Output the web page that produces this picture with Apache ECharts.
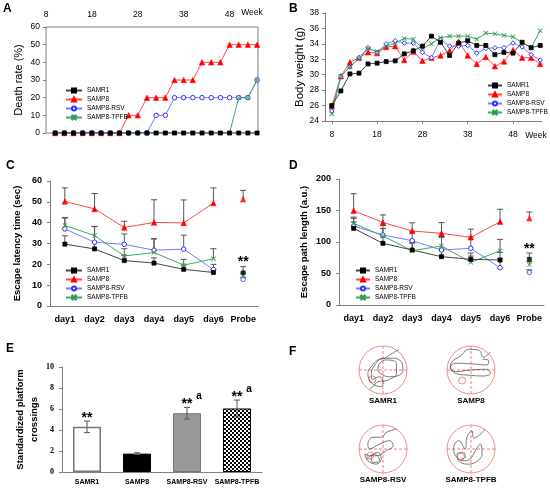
<!DOCTYPE html>
<html>
<head>
<meta charset="utf-8">
<script src="https://cdn.jsdelivr.net/npm/echarts@6/dist/echarts.min.js"></script>
<style>
html, body { margin: 0; padding: 0; background: #fff; }
#box { width: 550px; height: 490px; }
</style>
</head>
<body>
<div id="box"></div>
<script>
var groups = ['SAMR1', 'SAMP8', 'SAMP8-RSV', 'SAMP8-TPFB'];

// A - death rate (%)
var deathWeeks = [10, 12, 14, 16, 18, 20, 22, 24, 26, 28, 30, 32, 34, 36, 38, 40, 42, 44, 46, 48, 50, 52, 54];
var deathR1 = [0, 0, 0, 0, 0, 0, 0, 0, 0, 0, 0, 0, 0, 0, 0, 0, 0, 0, 0, 0, 0, 0, 0];
var deathP8 = [0, 0, 0, 0, 0, 0, 0, 0, 10, 10, 20, 20, 20, 30, 30, 30, 40, 40, 40, 50, 50, 50, 50];
var deathRSV = [0, 0, 0, 0, 0, 0, 0, 0, 0, 0, 0, 10, 10, 20, 20, 20, 20, 20, 20, 20, 20, 20, 30];
var deathTPFB = [0, 0, 0, 0, 0, 0, 0, 0, 0, 0, 0, 0, 0, 0, 0, 0, 0, 0, 0, 0, 20, 20, 30];
var weekTicks = [8, 18, 28, 38, 48];

// B - body weight (g)
var weightWeeks = [8, 10, 12, 14, 16, 18, 20, 22, 24, 26, 28, 30, 32, 34, 36, 38, 40, 42, 44, 46, 48, 50, 52, 54];
var weightR1 = [26.0, 27.9, 30.1, 30.2, 31.4, 31.5, 31.7, 31.8, 32.7, 33.1, 33.7, 35.0, 34.2, 32.5, 34.1, 34.4, 33.8, 33.8, 32.6, 32.9, 32.8, 34.2, 33.5, 33.8];
var weightP8 = [25.9, 29.8, 31.6, 32.2, 32.9, 32.8, 33.6, 33.7, 31.9, 33.0, 31.8, 32.2, 32.5, 33.1, 34.3, 32.5, 31.4, 32.3, 31.1, 31.7, 33.2, 32.2, 32.2, 31.4];
var weightRSV = [25.3, 29.8, 31.0, 32.2, 33.5, 32.9, 34.0, 34.4, 34.1, 34.1, 32.9, 32.2, 34.6, 33.7, 33.7, 33.8, 32.8, 33.4, 33.5, 33.5, 34.1, 33.6, 32.6, 31.9];
var weightTPFB = [24.9, 29.8, 31.0, 32.1, 33.4, 33.0, 33.7, 34.1, 34.7, 34.6, 33.4, 34.0, 34.8, 35.0, 35.0, 35.0, 34.6, 35.4, 35.3, 35.1, 34.9, 34.2, 33.5, 35.7];

// C - escape latency (sec), D - escape path length (a.u.)
var days = ['day1', 'day2', 'day3', 'day4', 'day5', 'day6', 'Probe'];
var latR1 = [29.7, 27.4, 21.8, 20.6, 17.6, 16.1, 15.9];
var latR1Err = [4.0, 3.0, 2.5, 2.5, 2.0, 1.5, 3.0];
var latP8 = [50.2, 46.6, 37.7, 40.1, 39.9, 49.4, 51.2];
var latP8Err = [6.5, 7.4, 3.0, 10.9, 11.0, 7.3, 4.3];
var latRSV = [37.0, 30.6, 29.6, 26.8, 27.3, 17.5, 12.8];
var latRSVErr = [5.5, 7.5, 5.0, 5.5, 6.7, 2.5, 1.0];
var latTPFB = [38.7, 33.8, 24.0, 25.7, 19.6, 22.7, 14.3];
var latTPFBErr = [3.5, 4.4, 3.5, 6.5, 2.8, 4.8, 1.5];
var pathR1 = [121.7, 97.9, 87.3, 76.7, 72.5, 71.4, 72.5];
var pathR1Err = [10, 10, 12, 12, 10, 12, 10];
var pathP8 = [149.7, 131.0, 117.5, 113.8, 107.4, 132.0, 137.6];
var pathP8Err = [27, 12, 13, 17, 13, 20, 10];
var pathRSV = [125.4, 111.1, 102.1, 87.3, 90.0, 59.2, 51.8];
var pathRSVErr = [12, 15, 14, 20, 18, 15, 4];
var pathTPFB = [129.6, 109.5, 86.2, 93.7, 67.7, 86.2, 63.5];
var pathTPFBErr = [10, 12, 12, 15, 10, 18, 5];
var probeStars = ['', '', '', '', '', '', '**'];

// E - standardized platform crossings
var crossNames = ['SAMR1', 'SAMP8', 'SAMP8-RSV', 'SAMP8-TPFB'];
var crossVals = [4.3, 1.75, 5.6, 6.05];
var crossErr = [0.55, 0.08, 0.55, 0.8];
var crossStars = ['**', '', '**', '**'];
var crossSup = ['', '', 'a', 'a'];

// F - swim paths (pool radius = 1)
var trajR1 = [[0.67, 0.86], [0.35, 0.67], [0.07, 0.49], [-0.21, 0.42], [-0.49, 0.14], [-0.63, -0.14], [-0.56, -0.42], [-0.35, -0.63], [-0.07, -0.69], [0, -0.49], [-0.14, -0.28], [-0.44, -0.39], [-0.49, -0.14], [-0.28, 0.28], [0, 0.49], [0.42, 0.49], [0.76, 0.35], [0.83, 0], [0.69, -0.21], [0.28, -0.28], [0, -0.21], [-0.21, 0], [-0.14, 0.28], [0.14, 0.42], [0.56, 0.28], [0.56, -0.14], [0.21, -0.42], [-0.21, -0.49], [-0.42, -0.69], [-0.56, -0.81]];
var trajP8 = [[0.81, 0.76], [0.53, 0.53], [0.32, 0.83], [-0.1, 0.86], [-0.44, 0.58], [-0.79, 0.35], [-0.86, 0.07], [-0.65, -0.07], [-0.03, 0], [0.67, 0.03], [0.81, -0.14], [0.53, -0.25], [-0.17, -0.21], [-0.65, -0.14], [-0.86, 0.14], [-0.58, 0.28], [0.11, 0.25], [0.67, 0.21], [0.74, 0.39], [0.5, 0.45]];
var trajRSV = [[0.56, 0.83], [0.14, 0.69], [-0.07, 0.49], [-0.42, 0.49], [-0.63, 0.21], [-0.56, 0], [-0.14, 0.21], [0.28, 0.35], [0.42, 0.14], [0.14, -0.07], [-0.28, -0.28], [-0.56, -0.28], [-0.76, -0.21], [-0.63, -0.49], [-0.28, -0.63], [-0.07, -0.42], [-0.21, -0.14], [-0.49, -0.35], [-0.42, -0.56], [-0.14, -0.49], [-0.35, -0.21], [-0.69, -0.42]];
var trajTPFB = [[0.6, 0.83], [0.32, 0.56], [0.11, 0.46], [0.04, 0.76], [-0.17, 0.49], [-0.24, 0], [-0.51, 0.35], [-0.72, 0.07], [-0.65, -0.28], [-0.31, -0.49], [-0.03, -0.42], [0.18, -0.07], [0.39, 0.21], [0.46, -0.21], [0.18, -0.56], [-0.17, -0.63], [-0.51, -0.49], [-0.58, -0.21], [-0.31, -0.14], [-0.24, -0.35], [-0.44, -0.42]];
var platforms = [[-0.44, -0.39], [-0.37, -0.44], [-0.53, -0.28], [-0.42, -0.32]];

var FONT = 'Liberation Sans';
var GRAY = '#808080';
var xSym = 'path://M0,1L1,0L5,4L9,0L10,1L6,5L10,9L9,10L5,6L1,10L0,9L4,5Z';
var markers = [
    { symbol: 'rect', size: 4, fill: '#000', stroke: '#000', bw: 0.8 },
    { symbol: 'triangle', size: 5.5, fill: '#ff0000', stroke: '#ff0000', bw: 0.5 },
    { symbol: 'circle', size: 4.5, fill: '#fff', stroke: '#3030ff', bw: 1 },
    { symbol: xSym, size: 4.5, fill: '#2e9e52', stroke: '#2e9e52', bw: 0.3 }
];
var lineCols = ['#444', '#ff4a4a', '#7a7aff', '#3caa68'];
var poolCenters = [[383, 370], [471, 370], [383, 449], [471, 449]];
var poolLabels = ['SAMR1', 'SAMP8', 'SAMP8-RSV', 'SAMP8-TPFB'];

function lineSeries(k, axis, data, sym) {
    var m = markers[k];
    return {
        name: groups[k], type: 'line', xAxisIndex: axis, yAxisIndex: axis, data: data,
        symbol: sym || m.symbol, symbolSize: m.size, showSymbol: true,
        lineStyle: { color: lineCols[k], width: 1 },
        itemStyle: { color: m.fill, borderColor: m.stroke, borderWidth: m.bw },
        z: k === 0 ? 6 : 3
    };
}

function probeSeries(k, axis, vals) {
    var m = markers[k];
    return {
        name: groups[k], type: 'scatter', xAxisIndex: axis, yAxisIndex: axis,
        data: [[6, vals[6]]], symbol: m.symbol, symbolSize: m.size,
        itemStyle: { color: m.fill, borderColor: m.stroke, borderWidth: m.bw }, z: 4
    };
}

// upper error bars, optional stars above the cap
function errorSeries(axis, vals, errs, stars) {
    return {
        type: 'custom', xAxisIndex: axis, yAxisIndex: axis, z: 1,
        data: vals.map(function(v, i) { return [i, v, errs[i]]; }),
        renderItem: function(params, api) {
            var x = api.value(0), m = api.value(1), e = api.value(2);
            var a = api.coord([x, m]), b = api.coord([x, m + e]);
            var kids = [
                { type: 'line', shape: { x1: a[0], y1: a[1], x2: b[0], y2: b[1] }, style: { stroke: '#555', lineWidth: 1 } },
                { type: 'line', shape: { x1: b[0] - 3, y1: b[1], x2: b[0] + 3, y2: b[1] }, style: { stroke: '#555', lineWidth: 1 } }
            ];
            var s = stars && stars[params.dataIndex];
            if (s) {
                kids.push({ type: 'text', x: b[0], y: b[1] - 4, style: { text: s, align: 'center', verticalAlign: 'middle', font: 'bold 14px ' + FONT, fill: '#000' } });
            }
            return { type: 'group', children: kids };
        }
    };
}

function checker() {
    var c = document.createElement('canvas');
    c.width = 4; c.height = 4;
    var g = c.getContext('2d');
    g.fillStyle = '#fff'; g.fillRect(0, 0, 4, 4);
    g.fillStyle = '#000'; g.fillRect(0, 0, 2, 2); g.fillRect(2, 2, 2, 2);
    return c;
}
var barStyles = [
    { color: '#fff', borderColor: '#777', borderWidth: 1.5 },
    { color: '#000', borderColor: '#000', borderWidth: 1 },
    { color: '#999', borderColor: '#777', borderWidth: 1 },
    { color: { image: checker(), repeat: 'repeat' }, borderColor: '#000', borderWidth: 1 }
];

function legendAt(left, top, w) {
    return {
        data: groups, orient: 'vertical', left: left, top: top, itemWidth: w, itemHeight: 5, itemGap: 2,
        selectedMode: false, textStyle: { fontSize: 6.5, fontFamily: FONT, color: '#000' }
    };
}

var labelStyle = { color: '#000', fontFamily: FONT, fontSize: 8.5 };
var boldLabel = { color: '#000', fontFamily: FONT, fontSize: 9, fontWeight: 'bold' };
function mix(a, b) { var o = {}; for (var k in a) o[k] = a[k]; for (var j in b) o[j] = b[j]; return o; }

var grids = [
    { left: 46, top: 27, width: 212, height: 106, show: true, borderColor: GRAY, borderWidth: 1 },
    { left: 325, top: 13, width: 217, height: 108 },
    { left: 50, top: 181, width: 208, height: 125 },
    { left: 339, top: 179, width: 205, height: 126 },
    { left: 62, top: 367, width: 200, height: 105 }
];
var xAxes = [
    { gridIndex: 0, type: 'value', position: 'top', min: 8, max: 54.2, axisLine: { show: false }, axisTick: { show: false }, splitLine: { show: false },
      axisLabel: mix(labelStyle, { customValues: weekTicks, margin: 8 }) },
    { gridIndex: 1, type: 'value', min: 6.5, max: 54.4, axisLine: { lineStyle: { color: GRAY } }, splitLine: { show: false },
      axisTick: { customValues: weekTicks, length: 3, lineStyle: { color: GRAY } },
      axisLabel: mix(labelStyle, { customValues: weekTicks, margin: 9 }) },
    { gridIndex: 2, type: 'category', data: days, axisLine: { lineStyle: { color: GRAY } }, axisTick: { length: 3, interval: 0, lineStyle: { color: GRAY } },
      axisLabel: mix(boldLabel, { margin: 9, interval: 0 }) },
    { gridIndex: 3, type: 'category', data: days, axisLine: { lineStyle: { color: GRAY } }, axisTick: { length: 3, interval: 0, lineStyle: { color: GRAY } },
      axisLabel: mix(boldLabel, { margin: 9, interval: 0 }) },
    { gridIndex: 4, type: 'category', data: crossNames, axisLine: { lineStyle: { color: GRAY } }, axisTick: { show: false },
      axisLabel: mix(boldLabel, { fontSize: 7, margin: 7, interval: 0 }) }
];
function yAx(grid, min, max, step, name, gap, nameStyle, lab, showLine) {
    return {
        gridIndex: grid, type: 'value', min: min, max: max, interval: step,
        name: name, nameLocation: 'middle', nameGap: gap, nameTextStyle: nameStyle,
        axisLine: { show: showLine, lineStyle: { color: GRAY } },
        axisTick: { show: true, length: 3, lineStyle: { color: GRAY } },
        splitLine: { show: false }, axisLabel: lab
    };
}
var yAxes = [
    yAx(0, 0, 60, 10, 'Death rate (%)', 22, { fontSize: 11, fontFamily: FONT, color: '#000' }, mix(labelStyle, { margin: 6 }), false),
    yAx(1, 24, 38, 2, 'Body weight (g)', 19, { fontSize: 11.5, fontFamily: FONT, color: '#000' }, mix(labelStyle, { margin: 6 }), true),
    yAx(2, 0, 60, 10, 'Escape latency time (sec)', 28, { fontSize: 9.5, fontWeight: 'bold', fontFamily: FONT, color: '#000' }, mix(boldLabel, { margin: 8 }), true),
    yAx(3, 0, 200, 50, 'Escape path length (a.u.)', 30, { fontSize: 9.5, fontWeight: 'bold', fontFamily: FONT, color: '#000' }, mix(boldLabel, { margin: 8 }), true),
    yAx(4, 0, 10, 2, 'Standardized platform\ncrossings', 21, { fontSize: 9.5, fontWeight: 'bold', fontFamily: FONT, color: '#000', lineHeight: 14 },
        { color: '#000', fontFamily: 'Liberation Serif', fontWeight: 'bold', fontSize: 8, margin: 8 }, true)
];

var series = [];
var deathSets = [deathR1, deathP8, deathRSV, deathTPFB];
var weightSets = [weightR1, weightP8, weightRSV, weightTPFB];
var latSets = [latR1, latP8, latRSV, latTPFB];
var latErrs = [latR1Err, latP8Err, latRSVErr, latTPFBErr];
var pathSets = [pathR1, pathP8, pathRSV, pathTPFB];
var pathErrs = [pathR1Err, pathP8Err, pathRSVErr, pathTPFBErr];

deathSets.forEach(function(arr, k) {
    series.push(lineSeries(k, 0, deathWeeks.map(function(w, i) { return [w, arr[i]]; })));
});
weightSets.forEach(function(arr, k) {
    series.push(lineSeries(k, 1, weightWeeks.map(function(w, i) { return [w, arr[i]]; }), k === 2 ? 'diamond' : null));
});
latSets.forEach(function(arr, k) {
    series.push(errorSeries(2, arr, latErrs[k], k === 0 ? probeStars : null));
    series.push(lineSeries(k, 2, arr.slice(0, 6)));
    series.push(probeSeries(k, 2, arr));
});
pathSets.forEach(function(arr, k) {
    series.push(errorSeries(3, arr, pathErrs[k], k === 0 ? probeStars : null));
    series.push(lineSeries(k, 3, arr.slice(0, 6)));
    series.push(probeSeries(k, 3, arr));
});

series.push({
    type: 'bar', xAxisIndex: 4, yAxisIndex: 4, barWidth: '56%', z: 2,
    data: crossVals.map(function(v, i) { return { value: v, itemStyle: barStyles[i] }; })
});
series.push({
    type: 'custom', xAxisIndex: 4, yAxisIndex: 4, z: 3,
    data: crossVals.map(function(v, i) { return [i, v, crossErr[i]]; }),
    renderItem: function(params, api) {
        var i = api.value(0), v = api.value(1), e = api.value(2);
        var lo = api.coord([i, v - e]), hi = api.coord([i, v + e]);
        var st = { stroke: '#555', lineWidth: 1 };
        var kids = [
            { type: 'line', shape: { x1: lo[0], y1: lo[1], x2: hi[0], y2: hi[1] }, style: st },
            { type: 'line', shape: { x1: hi[0] - 3, y1: hi[1], x2: hi[0] + 3, y2: hi[1] }, style: st },
            { type: 'line', shape: { x1: lo[0] - 3, y1: lo[1], x2: lo[0] + 3, y2: lo[1] }, style: st }
        ];
        var idx = params.dataIndex;
        if (crossStars[idx]) {
            kids.push({ type: 'text', x: hi[0], y: hi[1] - 3, style: { text: crossStars[idx], align: 'center', verticalAlign: 'middle', font: 'bold 14px ' + FONT, fill: '#000' } });
        }
        if (crossSup[idx]) {
            kids.push({ type: 'text', x: hi[0] + 12, y: hi[1] - 11, style: { text: crossSup[idx], align: 'center', verticalAlign: 'middle', font: 'bold 10px ' + FONT, fill: '#000' } });
        }
        return { type: 'group', children: kids };
    }
});

// F: pools
var polars = [], angleAxes = [], radiusAxes = [];
var trajs = [trajR1, trajP8, trajRSV, trajTPFB];
poolCenters.forEach(function(c, i) {
    var gi = 5 + i;
    grids.push({ left: c[0] - 24, top: c[1] - 24, width: 48, height: 48 });
    xAxes.push({ gridIndex: gi, type: 'value', min: -1, max: 1, show: false });
    yAxes.push({ gridIndex: gi, type: 'value', min: -1, max: 1, show: false });
    polars.push({ center: c, radius: 24 });
    angleAxes.push({
        polarIndex: i, type: 'value', min: 0, max: 360, interval: 90, startAngle: 90,
        axisLine: { lineStyle: { color: '#f08a8a', width: 1 } }, axisTick: { show: false }, axisLabel: { show: false },
        splitLine: { show: true, lineStyle: { color: '#ff5a5a', type: [3, 2], width: 0.8 } }
    });
    radiusAxes.push({
        polarIndex: i, type: 'value', min: 0, max: 1, axisLine: { show: false }, axisTick: { show: false },
        axisLabel: { show: false }, splitLine: { show: false }
    });
    series.push({
        type: 'line', xAxisIndex: gi, yAxisIndex: gi, data: trajs[i], smooth: 0.4, symbol: 'none',
        lineStyle: { color: '#444', width: 0.7 }, z: 3
    });
    series.push({
        type: 'scatter', xAxisIndex: gi, yAxisIndex: gi, data: [platforms[i]], symbol: 'circle', symbolSize: 7,
        itemStyle: { color: 'rgba(0,0,0,0)', borderColor: '#e84040', borderWidth: 0.8 }, z: 4
    });
});

var texts = [
    ['A', 3, 9], ['B', 289, 9], ['C', 6, 166], ['D', 289, 166], ['E', 6, 349], ['F', 289, 352]
].map(function(t) {
    return { type: 'text', x: t[1], y: t[2], style: { text: t[0], font: 'bold 12px ' + FONT, fill: '#000', align: 'left', verticalAlign: 'middle' } };
});
texts.push({ type: 'text', x: 252, y: 13, style: { text: 'Week', font: '8.5px ' + FONT, fill: '#000', align: 'center', verticalAlign: 'middle' } });
texts.push({ type: 'text', x: 536, y: 136, style: { text: 'Week', font: '8.5px ' + FONT, fill: '#000', align: 'center', verticalAlign: 'middle' } });
poolCenters.forEach(function(c, i) {
    texts.push({ type: 'text', x: c[0], y: c[1] + 31, style: { text: poolLabels[i], font: 'bold 8px ' + FONT, fill: '#000', align: 'center', verticalAlign: 'middle' } });
});

var myChart = echarts.init(document.getElementById('box'));
myChart.setOption({
    animation: false,
    backgroundColor: '#fff',
    grid: grids,
    xAxis: xAxes,
    yAxis: yAxes,
    polar: polars,
    angleAxis: angleAxes,
    radiusAxis: radiusAxes,
    legend: [legendAt(60, 82, 16), legendAt(482, 77, 14), legendAt(60, 262, 16), legendAt(350, 262, 14)],
    graphic: texts,
    series: series
});
</script>
</body>
</html>
